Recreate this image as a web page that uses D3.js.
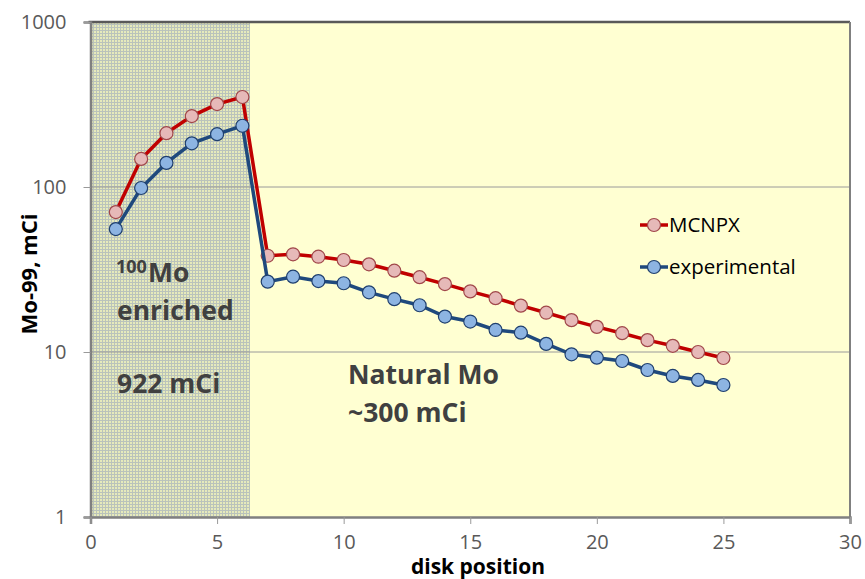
<!DOCTYPE html>
<html>
<head>
<meta charset="utf-8">
<script src="https://cdn.jsdelivr.net/npm/d3@7"></script>
<style>
  body { margin: 0; background: #fff; }
  svg { display: block; font-family: "Open Sans", "Noto Sans", sans-serif; }
</style>
</head>
<body>
<svg width="865" height="579"></svg>
<script>
// disk positions 1..25
const disks = d3.range(1, 26);

const mcnpx = [70.5, 148, 212, 269, 318, 351,
  38.3, 39.1, 37.8, 36.1, 34.0, 31.1, 28.4, 25.8, 23.3, 21.2,
  19.1, 17.3, 15.6, 14.2, 13.0, 11.8, 10.9, 10.0, 9.2];

const experimental = [55.6, 98.6, 140, 184, 209, 235,
  26.7, 28.6, 26.9, 26.1, 23.0, 20.9, 19.2, 16.4, 15.3, 13.6,
  13.1, 11.2, 9.68, 9.24, 8.82, 7.78, 7.16, 6.77, 6.31];

const xTicks = [0, 5, 10, 15, 20, 25, 30];
const yTicks = [1, 10, 100, 1000];
const enrichedEnd = 6.3;

const series = [
  { name: "MCNPX", values: mcnpx, line: "#C00000", fill: "#E6B9B8", stroke: "#A0474A" },
  { name: "experimental", values: experimental, line: "#1F497D", fill: "#8DB4E2", stroke: "#1F3F6E" }
];

const svg = d3.select("svg");
const plotL = 90.5, plotR = 850, plotT = 22, plotB = 517;

const x = d3.scaleLinear().domain([0, 30]).range([plotL, plotR]);
const y = d3.scaleLog().domain([1, 1000]).range([plotB, plotT]);

/* background + pattern for enriched zone */
const defs = svg.append("defs");
const pat = defs.append("pattern")
  .attr("id", "grid")
  .attr("width", 3).attr("height", 3)
  .attr("patternUnits", "userSpaceOnUse");
pat.append("rect").attr("width", 3).attr("height", 3).attr("fill", "#E6EABB");
pat.append("rect").attr("width", 3).attr("height", 1).attr("fill", "#BAC3BB");
pat.append("rect").attr("width", 1).attr("height", 3).attr("fill", "#BAC3BB");

svg.append("rect")
  .attr("x", x(0)).attr("y", plotT)
  .attr("width", x(30) - x(0)).attr("height", plotB - plotT)
  .attr("fill", "#FFFFD2");

svg.append("rect")
  .attr("x", x(0)).attr("y", plotT)
  .attr("width", x(enrichedEnd) - x(0)).attr("height", plotB - plotT)
  .attr("fill", "url(#grid)");

/* gridlines */
svg.append("g")
  .selectAll("line")
  .data([10, 100])
  .enter()
  .append("line")
  .attr("x1", x(0)).attr("x2", x(30))
  .attr("y1", d => y(d)).attr("y2", d => y(d))
  .attr("stroke", "#9a9a9a")
  .attr("stroke-width", 1);

/* frame */
svg.append("line")
  .attr("x1", x(0) - 2).attr("x2", x(30))
  .attr("y1", plotT).attr("y2", plotT)
  .attr("stroke", "#595959").attr("stroke-width", 2.5);
svg.append("line")
  .attr("x1", x(30)).attr("x2", x(30))
  .attr("y1", plotT).attr("y2", plotB)
  .attr("stroke", "#808080").attr("stroke-width", 2);

/* axes */
const yAxis = svg.append("g")
  .attr("transform", `translate(${x(0)},0)`)
  .call(d3.axisLeft(y).tickValues(yTicks).tickFormat(d3.format("d")).tickSize(7).tickPadding(17));
const xAxis = svg.append("g")
  .attr("transform", `translate(0,${plotB})`)
  .call(d3.axisBottom(x).tickValues(xTicks).tickSize(7).tickPadding(11));

[yAxis, xAxis].forEach(a => {
  a.select(".domain").attr("stroke", "#808080").attr("stroke-width", 2.5);
  a.selectAll(".tick line").attr("stroke", "#9a9a9a");
  a.selectAll(".tick text")
    .attr("fill", "#595959")
    .style("font-size", "20px")
    .style("font-family", "'Open Sans', sans-serif");
});

/* lines + markers */
const line = d3.line()
  .x((d, i) => x(disks[i]))
  .y(d => y(d));

series.forEach(s => {
  svg.append("path")
    .datum(s.values)
    .attr("fill", "none")
    .attr("stroke", s.line)
    .attr("stroke-width", 3.5)
    .attr("d", line);

  svg.append("g")
    .selectAll("circle")
    .data(s.values)
    .enter()
    .append("circle")
    .attr("cx", (d, i) => x(disks[i]))
    .attr("cy", d => y(d))
    .attr("r", 6.5)
    .attr("fill", s.fill)
    .attr("stroke", s.stroke)
    .attr("stroke-width", 1.2);
});

/* legend */
const legend = svg.append("g");
series.forEach((s, i) => {
  const ly = 225 + i * 42;
  legend.append("line")
    .attr("x1", 640).attr("x2", 668)
    .attr("y1", ly).attr("y2", ly)
    .attr("stroke", s.line).attr("stroke-width", 3.5);
  legend.append("circle")
    .attr("cx", 654).attr("cy", ly).attr("r", 6.5)
    .attr("fill", s.fill).attr("stroke", s.stroke).attr("stroke-width", 1.2);
  legend.append("text")
    .attr("x", 669).attr("y", ly + 7)
    .attr("fill", "#000")
    .style("font-size", "20.5px")
    .text(s.name);
});

/* annotations */
const note = svg.append("g")
  .attr("fill", "#404040")
  .style("font-weight", "bold")
  .style("font-size", "26.5px");

const iso = note.append("text").attr("x", 116).attr("y", 282);
iso.append("tspan").style("font-size", "18px").attr("dy", -9).text("100");
iso.append("tspan").attr("dy", 9).attr("dx", 1).text("Mo");

note.append("text").attr("x", 117).attr("y", 320).text("enriched");
note.append("text").attr("x", 117).attr("y", 393).text("922 mCi");
note.append("text").attr("x", 348).attr("y", 384).text("Natural Mo");
note.append("text").attr("x", 348).attr("y", 422).text("~300 mCi");

/* axis titles */
svg.append("text")
  .attr("x", 478).attr("y", 574)
  .attr("text-anchor", "middle")
  .style("font-weight", "bold")
  .style("font-size", "21px")
  .text("disk position");

svg.append("text")
  .attr("transform", "translate(37,274) rotate(-90)")
  .attr("text-anchor", "middle")
  .style("font-weight", "bold")
  .style("font-size", "22px")
  .text("Mo-99, mCi");
</script>
</body>
</html>
